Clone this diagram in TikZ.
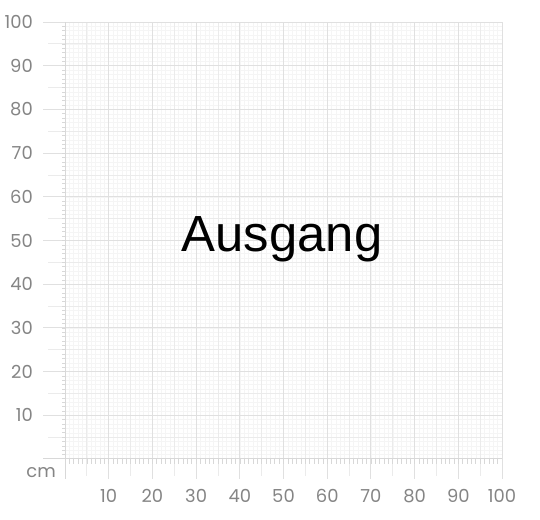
\documentclass[tikz,border=0pt]{standalone}
\usepackage{fontspec}
\setmainfont{Liberation Sans}
\newfontfamily\lblfont{Poppins}
\definecolor{gminor}{HTML}{F5F5F5}
\definecolor{gmid}{HTML}{EBEBEB}
\definecolor{gmajor}{HTML}{E0E0E0}
\definecolor{axisc}{HTML}{D8D8D8}
\definecolor{lblc}{HTML}{858585}
\begin{document}
\begin{tikzpicture}[x=1bp,y=1bp,
  minorline/.style={draw=gminor,line width=0.5bp},
  midline/.style={draw=gmid,line width=0.8bp},
  majorline/.style={draw=gmajor,line width=0.9bp},
  axisline/.style={draw=axisc,line width=1bp},
  ruler/.style={draw=axisc,line width=0.6bp},
  lbl/.style={font=\lblfont\fontsize{18}{18}\selectfont,text=lblc,inner sep=0pt}]
\useasboundingbox (0,0) rectangle (540,520);
\fill[white] (0,0) rectangle (540,520);
\def\u{4.37}
\def\ox{65}
\def\oy{61}
% minor grid
\foreach \i in {1,...,99}{
  \draw[minorline] ({\ox+\i*\u},\oy) -- ({\ox+\i*\u},{\oy+100*\u});
  \draw[minorline] (\ox,{\oy+\i*\u}) -- ({\ox+100*\u},{\oy+\i*\u});
}
% 5-unit grid
\foreach \i in {5,15,...,95}{
  \draw[midline] ({\ox+\i*\u},{\oy-17}) -- ({\ox+\i*\u},{\oy+100*\u});
  \draw[midline] ({\ox-17},{\oy+\i*\u}) -- ({\ox+100*\u},{\oy+\i*\u});
}
% 10-unit grid
\foreach \i in {10,20,...,100}{
  \draw[majorline] ({\ox+\i*\u},{\oy-20}) -- ({\ox+\i*\u},{\oy+100*\u});
  \draw[majorline] ({\ox-22},{\oy+\i*\u}) -- ({\ox+100*\u},{\oy+\i*\u});
}
% ruler ticks
\foreach \i in {1,...,99}{
  \draw[ruler] ({\ox+\i*\u},\oy) -- ({\ox+\i*\u},{\oy-5});
  \draw[ruler] (\ox,{\oy+\i*\u}) -- ({\ox-3},{\oy+\i*\u});
}
% axes
\draw[axisline] (\ox,{\oy-20}) -- (\ox,{\oy+100*\u});
\draw[axisline] ({\ox-22},\oy) -- ({\ox+100*\u},\oy);
% labels
\foreach \v in {10,20,...,100}{
  \node[lbl,anchor=east] (y\v) at (33,{\oy+\v*\u}) {\v};
  \node[lbl,anchor=center] (x\v) at ({\ox+\v*\u},24) {\v};
}
\node[lbl,anchor=east] (cm) at (56,47) {cm};
\node[font=\fontsize{51}{51}\selectfont,text=black,inner sep=0pt,anchor=base] (title) at (282,268) {Ausgang};
\end{tikzpicture}
\end{document}
